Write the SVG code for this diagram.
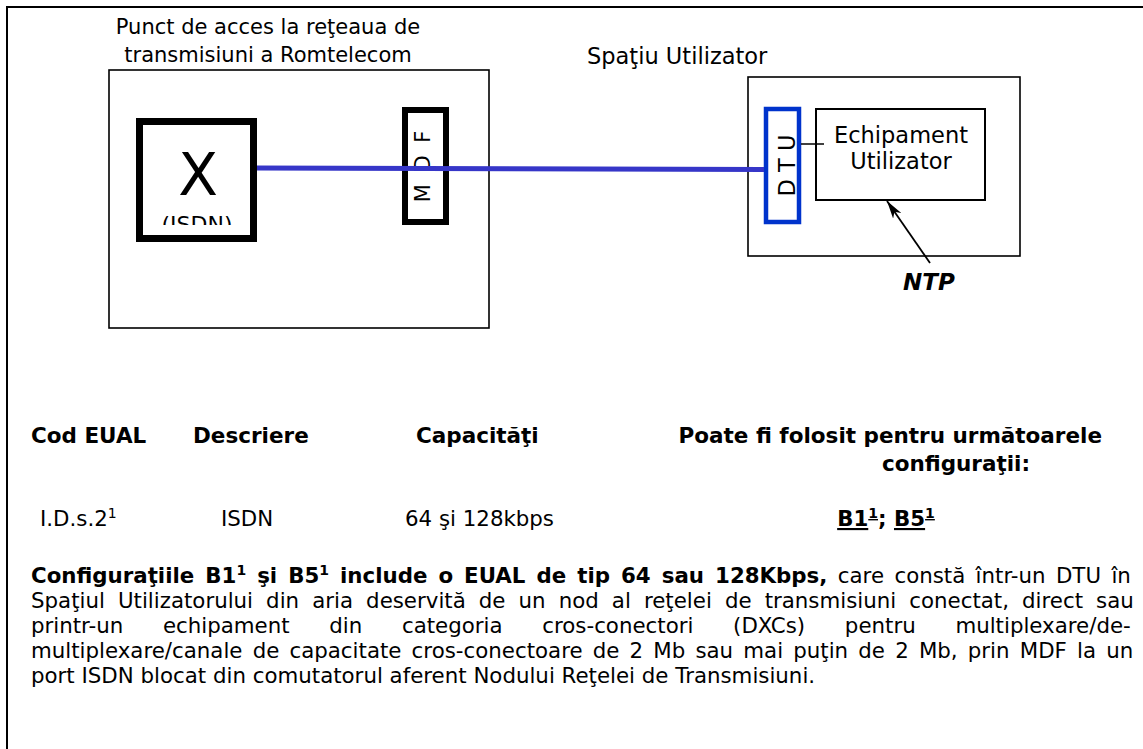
<svg xmlns="http://www.w3.org/2000/svg" width="1143" height="749" viewBox="0 0 1143 749">
<style>
  .lbl { font-family: "DejaVu Sans", Verdana, sans-serif; font-size: 22.5px; fill: #000; }
  .ttl { font-family: "DejaVu Sans", Verdana, sans-serif; font-size: 21px; fill: #000; }
  .hd { font-family: "DejaVu Sans", Verdana, sans-serif; font-size: 21.5px; font-weight: bold; fill: #000; }
  .tx { font-family: "DejaVu Sans", Verdana, sans-serif; font-size: 21.33px; fill: #000; }
  .b { font-weight: bold; }
  .thin { fill: none; stroke: #000; stroke-width: 1.6; }
</style>
<defs>
  <marker id="ah" viewBox="0 0 18 10" refX="18" refY="5" markerWidth="18" markerHeight="10" markerUnits="userSpaceOnUse" orient="auto">
    <path d="M0,0 L18,5 L0,10 L5,5 z" fill="#000"/>
  </marker>
  <clipPath id="clipIsdn"><rect x="136" y="118" width="121" height="107"/></clipPath>
</defs>
<rect x="7" y="7" width="1160" height="770" fill="none" stroke="#000" stroke-width="2"/>

<g id="retea">
  <text class="ttl" x="268" y="34" text-anchor="middle">Punct de acces la reţeaua de</text>
  <text class="ttl" x="268" y="62" text-anchor="middle">transmisiuni a Romtelecom</text>
  <rect class="thin" x="109" y="70" width="380" height="258"/>
</g>

<g id="comutator">
  <rect x="139.5" y="121.5" width="114" height="117" fill="none" stroke="#000" stroke-width="7"/>
  <text x="198" y="195" text-anchor="middle" style="font-family:'DejaVu Sans',sans-serif;font-size:58px">X</text>
  <text x="197" y="232" text-anchor="middle" clip-path="url(#clipIsdn)" style="font-family:'DejaVu Sans',sans-serif;font-size:22px">(ISDN)</text>
</g>

<g id="mdf">
  <rect x="405" y="110" width="41" height="112" fill="none" stroke="#000" stroke-width="6"/>
  <text class="ttl" transform="translate(430,165) rotate(-90)" text-anchor="middle" letter-spacing="3" font-size="22">M D F</text>
</g>

<g id="spatiu">
  <text class="lbl" x="587" y="64">Spaţiu Utilizator</text>
  <rect class="thin" x="748" y="77" width="272" height="179"/>
</g>

<g id="dtu">
  <rect x="766" y="109" width="33" height="113" fill="none" stroke="#0033cc" stroke-width="4.5"/>
  <text class="lbl" transform="translate(795,165.5) rotate(-90)" text-anchor="middle">D T U</text>
</g>

<g id="echipament">
  <rect x="816" y="109" width="169" height="91" fill="none" stroke="#000" stroke-width="2"/>
  <text class="lbl" x="901" y="143" text-anchor="middle">Echipament</text>
  <text class="lbl" x="901" y="169" text-anchor="middle">Utilizator</text>
</g>

<g id="ntp">
  <text x="903" y="290" style="font-family:'DejaVu Sans',sans-serif;font-size:23px;font-weight:bold;font-style:italic">NTP</text>
</g>

<g id="connectors">
  <line x1="257" y1="168" x2="764" y2="169.5" stroke="#3636c8" stroke-width="5"/>
  <line x1="801" y1="144" x2="824" y2="144" stroke="#000" stroke-width="1.5"/>
  <line x1="930" y1="263" x2="887" y2="201" stroke="#000" stroke-width="1.8" marker-end="url(#ah)"/>
</g>

<g id="tabel">
  <text class="hd" x="31" y="443">Cod EUAL</text>
  <text class="hd" x="193" y="443">Descriere</text>
  <text class="hd" x="416" y="443">Capacităţi</text>
  <text class="hd" x="1102" y="443" text-anchor="end">Poate fi folosit pentru următoarele</text>
  <text class="hd" x="956" y="471" text-anchor="middle">configuraţii:</text>

  <text class="tx" x="40" y="526">I.D.s.2<tspan font-size="14" dy="-8">1</tspan></text>
  <text class="tx" x="221" y="526">ISDN</text>
  <text class="tx" x="405" y="526">64 şi 128kbps</text>
  <text class="tx b" x="886" y="526" text-anchor="middle"><tspan text-decoration="underline">B1<tspan font-size="14" dy="-8">1</tspan></tspan><tspan dy="8">; </tspan><tspan text-decoration="underline">B5<tspan font-size="14" dy="-8">1</tspan></tspan></text>
</g>

<g id="paragraf">
  <text class="tx" x="31" y="583" word-spacing="3.6"><tspan class="b">Configuraţiile B1<tspan font-size="14" dy="-8">1</tspan><tspan dy="8"> şi B5</tspan><tspan font-size="14" dy="-8">1</tspan><tspan dy="8"> include o EUAL de tip 64 sau 128Kbps,</tspan></tspan> care constă într-un DTU în</text>
  <text class="tx" x="31" y="608" word-spacing="6.3">Spaţiul Utilizatorului din aria deservită de un nod al reţelei de transmisiuni conectat, direct sau</text>
  <text class="tx" x="31" y="633" word-spacing="32.9">printr-un echipament din categoria cros-conectori (DXCs) pentru multiplexare/de-</text>
  <text class="tx" x="31" y="658" word-spacing="3.4">multiplexare/canale de capacitate cros-conectoare de 2 Mb sau mai puţin de 2 Mb, prin MDF la un</text>
  <text class="tx" x="31" y="683">port ISDN blocat din comutatorul aferent Nodului Reţelei de Transmisiuni.</text>
</g>
</svg>
